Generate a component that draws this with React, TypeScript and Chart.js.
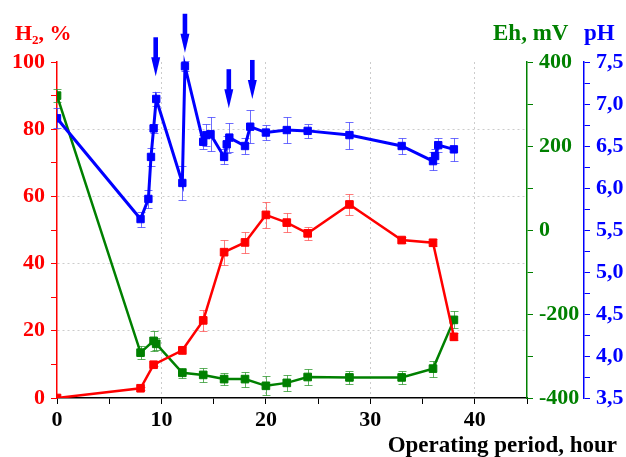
import React, { useEffect, useRef } from 'react';
import { Chart, registerables } from 'chart.js';

Chart.register(...registerables);

// H2 content, % (left axis)
const h2Hours = [0, 8, 9.25, 12, 14, 16, 18, 20, 22, 24, 28, 33, 36, 38];
const h2Values = [0, 2.9, 9.9, 14.2, 23.1, 43.4, 46.3, 54.5, 52.2, 49, 57.6, 47, 46.2, 18.2];
const h2Errors = [0, 0.5, 0.5, 1, 3.2, 3.7, 3.2, 3.8, 2.8, 2, 3, 1, 1, 1];

// Eh, mV (first right axis)
const ehHours = [0, 8, 9.25, 9.5, 12, 14, 16, 18, 20, 22, 24, 28, 33, 36, 38];
const ehValues = [320, -292, -264, -271, -340, -345, -355, -355, -371, -364, -350, -351, -351, -330, -214];
const ehErrors = [15, 15, 24, 15, 12, 16, 15, 18, 23, 19, 19, 16, 16, 19, 20];

// pH (second right axis)
const phHours = [0, 8, 8.75, 9, 9.25, 9.5, 12, 12.25, 14, 14.3, 14.7, 16, 16.25, 16.5, 18, 18.5, 20, 22, 24, 28, 33, 36, 36.2, 36.5, 38];
const phValues = [6.83, 5.63, 5.87, 6.37, 6.71, 7.06, 6.06, 7.45, 6.55, 6.63, 6.64, 6.37, 6.52, 6.6, 6.5, 6.73, 6.66, 6.69, 6.68, 6.63, 6.5, 6.32, 6.38, 6.51, 6.46];
const phErrors = [0.12, 0.09, 0.11, 0.11, 0.05, 0.08, 0.2, 0.06, 0.08, 0.13, 0.2, 0.09, 0.1, 0.17, 0.09, 0.2, 0.09, 0.15, 0.08, 0.16, 0.09, 0.11, 0.08, 0.08, 0.14];

// Arrows marking events (hour, pH value at arrow tip)
const arrowHours = [9.45, 12.25, 16.45, 18.7];
const arrowTips = [7.33, 7.61, 6.95, 7.06];

// Axis tick label sets
const xLabelHours = [0, 10, 20, 30, 40];
const h2TickLabels = [0, 20, 40, 60, 80, 100];
const ehTickLabels = [-400, -200, 0, 200, 400];
const phTickLabels = [3.5, 4, 4.5, 5, 5.5, 6, 6.5, 7, 7.5];

const RED = '#ff0000';
const GREEN = '#008000';
const BLUE = '#0000ff';
const FONT = "'Liberation Serif', 'Times New Roman', serif";
const GRID = '#cccccc';
const CLEAR = 'rgba(0,0,0,0)';

const has = (arr: number[], v: number) => arr.some((a) => Math.abs(a - v) < 1e-6);

export default function App() {
  const ref = useRef<HTMLCanvasElement | null>(null);

  useEffect(() => {
    document.body.style.margin = '0';
    const canvas = ref.current;
    if (!canvas) return;

    const pts = (xs: number[], ys: number[]) => xs.map((x, i) => ({ x, y: ys[i] }));

    const series = [
      { x: phHours, y: phValues, err: phErrors, axis: 'ph', color: 'rgba(60,60,255,0.75)' },
      { x: h2Hours, y: h2Values, err: h2Errors, axis: 'y', color: 'rgba(255,80,80,0.75)' },
      { x: ehHours, y: ehValues, err: ehErrors, axis: 'eh', color: 'rgba(40,150,40,0.75)' },
    ];

    const errorBars = {
      id: 'errorBars',
      beforeDatasetsDraw(chart: any) {
        const ctx = chart.ctx;
        const xs = chart.scales.x;
        ctx.save();
        ctx.lineWidth = 1;
        series.forEach((s) => {
          const ys = chart.scales[s.axis];
          ctx.strokeStyle = s.color;
          s.x.forEach((xv, i) => {
            const e = s.err[i];
            if (!e) return;
            const px = Math.round(xs.getPixelForValue(xv)) + 0.5;
            const y1 = Math.round(ys.getPixelForValue(s.y[i] + e)) + 0.5;
            const y2 = Math.round(ys.getPixelForValue(s.y[i] - e)) + 0.5;
            ctx.beginPath();
            ctx.moveTo(px, y1);
            ctx.lineTo(px, y2);
            ctx.moveTo(px - 4, y1);
            ctx.lineTo(px + 4, y1);
            ctx.moveTo(px - 4, y2);
            ctx.lineTo(px + 4, y2);
            ctx.stroke();
          });
        });
        ctx.restore();
      },
    };

    const overlay = {
      id: 'overlay',
      afterDraw(chart: any) {
        const ctx = chart.ctx;
        const xs = chart.scales.x;
        const ps = chart.scales.ph;
        ctx.save();
        // arrows
        ctx.fillStyle = BLUE;
        arrowHours.forEach((h, i) => {
          const px = xs.getPixelForValue(h);
          const tip = ps.getPixelForValue(arrowTips[i]);
          const len = 39;
          const headLen = 19;
          const shaftHalf = 2.3;
          const headHalf = 4.5;
          ctx.fillRect(px - shaftHalf, tip - len, shaftHalf * 2, len - headLen + 1);
          ctx.beginPath();
          ctx.moveTo(px - headHalf, tip - headLen);
          ctx.lineTo(px + headHalf, tip - headLen);
          ctx.lineTo(px, tip);
          ctx.closePath();
          ctx.fill();
        });
        // titles
        ctx.textBaseline = 'alphabetic';
        ctx.textAlign = 'left';
        ctx.font = `bold 22px ${FONT}`;
        ctx.fillStyle = RED;
        let x = 15;
        ctx.fillText('H', x, 40);
        x += ctx.measureText('H').width;
        ctx.font = `bold 13px ${FONT}`;
        ctx.fillText('2', x, 44);
        x += ctx.measureText('2').width;
        ctx.font = `bold 22px ${FONT}`;
        ctx.fillText(', %', x, 40);

        ctx.font = `bold 23px ${FONT}`;
        ctx.fillStyle = GREEN;
        ctx.fillText('Eh, mV', 493, 40);
        ctx.fillStyle = BLUE;
        ctx.fillText('pH', 584, 40);

        ctx.fillStyle = '#000';
        ctx.textAlign = 'right';
        ctx.fillText('Operating period, hour', 617, 452);
        ctx.restore();
      },
    };

    const tickFont = { family: FONT, size: 22, weight: 'bold' as const };

    const common = {
      borderWidth: 2.5,
      pointStyle: 'rect',
      pointRadius: 5.4,
      pointBorderWidth: 1,
      tension: 0,
      clip: { left: 0, top: 10, right: 10, bottom: 0 },
    };

    const chart = new Chart(canvas, {
      type: 'line',
      data: {
        datasets: [
          {
            ...common,
            label: 'pH',
            data: pts(phHours, phValues),
            yAxisID: 'ph',
            borderColor: BLUE,
            backgroundColor: BLUE,
            borderWidth: 3,
            pointRadius: 5.2,
            pointBackgroundColor: BLUE,
            pointBorderColor: BLUE,
          },
          {
            ...common,
            label: 'H2',
            data: pts(h2Hours, h2Values),
            yAxisID: 'y',
            borderColor: RED,
            backgroundColor: RED,
            pointBackgroundColor: RED,
            pointBorderColor: RED,
          },
          {
            ...common,
            label: 'Eh',
            data: pts(ehHours, ehValues),
            yAxisID: 'eh',
            borderColor: GREEN,
            backgroundColor: GREEN,
            pointBackgroundColor: GREEN,
            pointBorderColor: GREEN,
          },
        ],
      } as any,
      options: {
        responsive: false,
        animation: false,
        devicePixelRatio: 1,
        layout: { padding: { top: 62, left: 0, right: 0, bottom: 0 } },
        plugins: { legend: { display: false }, tooltip: { enabled: false } },
        scales: {
          x: {
            type: 'linear',
            position: 'bottom',
            min: 0,
            max: 45,
            ticks: {
              stepSize: 5,
              autoSkip: false,
              maxRotation: 0,
              color: '#000',
              font: tickFont,
              padding: 3,
              callback: (v: any) => (has(xLabelHours, Number(v)) ? String(v) : ''),
            },
            grid: {
              color: (c: any) => {
                const v = c.tick ? c.tick.value : -1;
                return v > 0 && v < 45 && v % 10 === 0 ? GRID : CLEAR;
              },
              tickColor: '#000',
              tickLength: 6,
              lineWidth: 1,
            },
            border: { color: '#000', width: 1.5, dash: [2, 3] },
            afterFit: (s: any) => {
              s.height = 59;
            },
          },
          y: {
            type: 'linear',
            position: 'left',
            min: 0,
            max: 100,
            ticks: {
              stepSize: 10,
              autoSkip: false,
              color: RED,
              font: tickFont,
              padding: 6,
              callback: (v: any) => (has(h2TickLabels, Number(v)) ? String(v) : ''),
            },
            grid: {
              color: (c: any) => {
                const v = c.tick ? c.tick.value : -1;
                return v > 0 && v < 100 && v % 20 === 0 ? GRID : CLEAR;
              },
              tickColor: RED,
              tickLength: 6,
              lineWidth: 1,
            },
            border: { color: RED, width: 1.5, dash: [2, 3] },
            afterFit: (s: any) => {
              s.width = 57;
            },
          },
          eh: {
            type: 'linear',
            position: 'right',
            min: -400,
            max: 400,
            ticks: {
              stepSize: 100,
              autoSkip: false,
              color: GREEN,
              font: tickFont,
              padding: 6,
              callback: (v: any) => (has(ehTickLabels, Number(v)) ? String(v) : ''),
            },
            grid: { drawOnChartArea: false, tickColor: GREEN, tickLength: 6 },
            border: { color: GREEN, width: 1.5 },
            afterFit: (s: any) => {
              s.width = 57;
            },
          },
          ph: {
            type: 'linear',
            position: 'right',
            min: 3.5,
            max: 7.5,
            ticks: {
              stepSize: 0.25,
              autoSkip: false,
              color: BLUE,
              font: tickFont,
              padding: 6,
              callback: (v: any) => (has(phTickLabels, Number(v)) ? Number(v).toFixed(1).replace('.', ',') : ''),
            },
            grid: { drawOnChartArea: false, tickColor: BLUE, tickLength: 6 },
            border: { color: BLUE, width: 1.5 },
            afterFit: (s: any) => {
              s.width = 42;
            },
          },
        },
      } as any,
      plugins: [errorBars, overlay],
    });

    return () => chart.destroy();
  }, []);

  return <canvas ref={ref} width={626} height={457} style={{ display: 'block' }} />;
}
